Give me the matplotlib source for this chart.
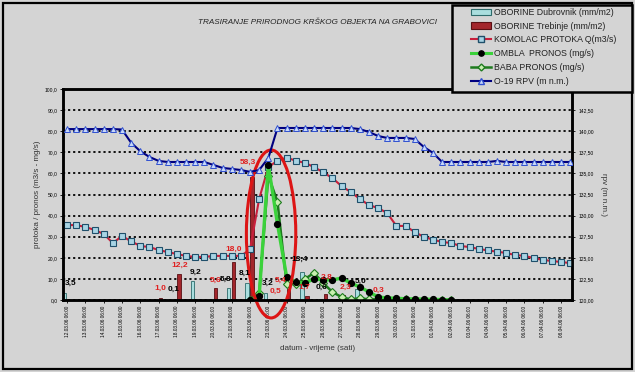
import matplotlib
matplotlib.use('Agg')
import matplotlib.pyplot as plt
import numpy as np
from matplotlib.patches import Ellipse, Rectangle, Patch
from matplotlib.lines import Line2D
from matplotlib.ticker import FuncFormatter, FixedLocator

plt.rcParams['font.family'] = ['Liberation Sans', 'DejaVu Sans']

# ---------------- data ----------------
title = 'TRASIRANJE PRIRODNOG KRŠKOG OBJEKTA NA GRABOVICI'
date_labels = ['12.03.06 06:00', '13.03.06 06:00', '14.03.06 06:00', '15.03.06 06:00',
               '16.03.06 06:00', '17.03.06 06:00', '18.03.06 06:00', '19.03.06 06:00',
               '20.03.06 06:00', '21.03.06 06:00', '22.03.06 06:00', '23.03.06 06:00',
               '24.03.06 06:00', '25.03.06 06:00', '26.03.06 06:00', '27.03.06 06:00',
               '28.03.06 06:00', '29.03.06 06:00', '30.03.06 06:00', '31.03.06 06:00',
               '01.04.06 06:00', '02.04.06 06:00', '03.04.06 06:00', '04.04.06 06:00',
               '05.04.06 06:00', '06.04.06 06:00', '07.04.06 06:00', '08.04.06 06:00']

# measurements every 12 h (index 0 = 12.03.06 06:00)
komolac = [35.5, 35.5, 34.6, 33.2, 31.3, 27.0, 30.3, 27.8, 25.6, 25.1,
           23.7, 22.7, 21.8, 20.9, 20.4, 20.4, 20.9, 20.9, 20.9, 20.9,
           24.0, 48.0, 63.0, 66.0, 67.5, 66.0, 65.0, 63.0, 60.5, 57.8,
           54.0, 51.2, 47.9, 45.0, 43.6, 41.2, 35.1, 35.1, 32.2, 29.9,
           28.6, 27.5, 27.0, 25.6, 25.1, 24.2, 23.5, 22.9, 22.3, 21.3,
           20.9, 19.9, 19.0, 18.5, 18.0, 17.5]

rpv = [140.25, 140.25, 140.25, 140.25, 140.25, 140.25, 140.20, 138.63, 137.63, 136.95,
       136.48, 136.35, 136.35, 136.35, 136.35, 136.35, 136.00, 135.65, 135.53, 135.40,
       135.18, 135.40, 136.83, 140.38, 140.38, 140.38, 140.38, 140.38, 140.38, 140.38,
       140.38, 140.38, 140.25, 139.90, 139.43, 139.20, 139.20, 139.20, 139.08, 138.13,
       137.43, 136.35, 136.35, 136.35, 136.35, 136.35, 136.35, 136.48, 136.35, 136.35,
       136.35, 136.35, 136.35, 136.35, 136.35, 136.35]

tracer_start = 20
ombla = [0.0, 2.0, 64.0, 36.0, 11.0, 8.5, 8.0, 10.0, 9.5, 9.5, 10.4, 8.0,
         6.2, 3.8, 1.4, 1.0, 0.8, 0.6, 0.5, 0.4, 0.3, 0.2, 0.0]
baba = [0.0, 3.3, 59.0, 46.5, 7.6, 7.6, 10.0, 12.8, 8.0, 3.8, 1.4, 0.3,
        0.8, 0.3, 0.5, 0.4, 0.3, 0.3, 0.2, 0.2, 0.1, 0.1, 0.1]

dub_idx = [0, 12, 14, 18, 20, 22, 26, 28, 32]
dub_val = [3.5, 0.1, 9.2, 5.8, 8.1, 3.2, 13.4, 0.6, 5.0]
treb_idx = [10, 12, 16, 18, 20, 22, 24, 26, 28, 30, 34]
treb_val = [1.0, 12.2, 5.6, 18.0, 58.3, 0.5, 5.4, 1.7, 2.8, 2.3, 0.3]

left_ticks = [0, 10, 20, 30, 40, 50, 60, 70, 80, 90, 100]
right_ticks = [120.0, 122.5, 125.0, 127.5, 130.0, 132.5, 135.0, 137.5, 140.0, 142.5]

# label placement offsets (pixels, right / up) – styling only
dub_lab_off = [(6, 9.6), (0, 10), (3, 8.6), (-3, 8), (-2, 10), (2, 10), (-2, 12), (1, 11), (4, 8.5)]
treb_lab_off = [(0, 10), (1, 9.3), (0, 8), (0, 13), (-4, 15), (5, 8), (-8, 8.6), (-3, 9.4),
                (1, 17), (2, 8), (-2, 9.4)]

# ---------------- figure ----------------
BG = '#d4d4d4'
W, H = 635, 372
fig = plt.figure(figsize=(W / 100, H / 100), dpi=100, facecolor=BG)

def fx(px):
    return px / W

def fy(py):
    return 1 - py / H

ax = fig.add_axes([fx(63), fy(300), fx(572) - fx(63), fy(89) - fy(300)])
ax.set_facecolor(BG)
ax.set_xlim(-0.45, 55.2)
ax.set_ylim(0, 100)

ax.yaxis.set_major_locator(FixedLocator(left_ticks))
ax.grid(axis='y', color='black', linestyle=(0, (1.2, 1.6)), linewidth=1.3)
ax.set_axisbelow(True)

# bars
bw = 0.36
ax.bar(np.array(dub_idx) - 0.32, dub_val, width=bw, color='#a9dede', edgecolor='#2d6b6b',
       linewidth=0.6, zorder=2)
ax.bar(np.array(treb_idx) + 0.22, treb_val, width=bw, color='#a3262c', edgecolor='#5a1014',
       linewidth=0.6, zorder=2)

PX = 0.72  # points per pixel
for i, v, (dx, dy) in zip(dub_idx, dub_val, dub_lab_off):
    ax.annotate(f'{v:.1f}'.replace('.', ','), xy=(i - 0.32, v), xytext=(dx * PX, dy * PX),
                textcoords='offset points', ha='center', va='center', fontsize=6,
                color='black', fontweight='bold', zorder=9)
for i, v, (dx, dy) in zip(treb_idx, treb_val, treb_lab_off):
    ax.annotate(f'{v:.1f}'.replace('.', ','), xy=(i + 0.22, v), xytext=(dx * PX, dy * PX),
                textcoords='offset points', ha='center', va='center', fontsize=6,
                color='#e02020', fontweight='bold', zorder=9)

# Komolac flow
x_all = np.arange(len(komolac))
ax.plot(x_all, komolac, color='#c8203c', linewidth=1.5, marker='s', markersize=4.6,
        markerfacecolor='#a8d4e4', markeredgecolor='#1f4f6a', markeredgewidth=0.8, zorder=4)

# tracers
x_tr = np.arange(tracer_start, tracer_start + len(ombla))
ax.plot(x_tr, baba, color='#1e7b1e', linewidth=1.8, marker='D', markersize=4,
        markerfacecolor='#c8f0b0', markeredgecolor='#1e7b1e', markeredgewidth=0.8, zorder=5)
ax.plot(x_tr, ombla, color='#3bd23b', linewidth=2.4, marker='o', markersize=4.2,
        markerfacecolor='black', markeredgecolor='black', zorder=5)

# ellipse highlight
ell = Ellipse((22.3, 31.3), width=5.4, height=79.6, fill=False, edgecolor='#dd1515',
              linewidth=2.2, clip_on=False, zorder=7)
ax.add_patch(ell)

for s in ax.spines.values():
    s.set_linewidth(1.8)
    s.set_color('black')
ax.yaxis.set_major_formatter(FuncFormatter(lambda v, p: f'{v:.1f}'.replace('.', ',')))
ax.tick_params(axis='y', labelsize=3.6, length=2, width=0.6, pad=2)
ax.set_xticks(np.arange(0, 2 * len(date_labels), 2))
ax.set_xticklabels(date_labels, rotation=90, fontsize=3.4)
ax.tick_params(axis='x', length=2, width=0.6, pad=2)
ax.set_ylabel('protoka / pronos (m3/s - mg/s)', fontsize=5.8, color='#333333', labelpad=3)
ax.set_xlabel('datum - vrijeme (sati)', fontsize=5.8, color='#333333', labelpad=6)

ax2 = ax.twinx()
ax2.set_ylim(120, 145)
ax2.yaxis.set_major_locator(FixedLocator(right_ticks))
ax2.yaxis.set_major_formatter(FuncFormatter(lambda v, p: f'{v:.2f}'.replace('.', ',')))
ax2.tick_params(axis='y', labelsize=3.6, length=2, width=0.6, pad=3)
for s in ax2.spines.values():
    s.set_linewidth(1.8)
ax2.plot(x_all, rpv, color='#000080', linewidth=1.5, marker='^', markersize=4.2,
         markerfacecolor='#c8d8f8', markeredgecolor='#3050d0', markeredgewidth=0.7, zorder=5)
ax2.set_ylabel('rpv (m n.m.)', fontsize=5.8, color='#333333', rotation=270, labelpad=9)

# title
fig.text(fx(317), fy(23), title, ha='center', va='center', fontsize=5.9, style='italic',
         color='#222222')

# legend box + legend
fig.add_artist(Rectangle((fx(452), fy(92)), fx(632) - fx(452), fy(5) - fy(92),
                         transform=fig.transFigure, facecolor=BG, edgecolor='black',
                         linewidth=1.8, zorder=4))
handles = [
    Patch(facecolor='#a9dede', edgecolor='#2d6b6b', linewidth=0.8),
    Patch(facecolor='#a3262c', edgecolor='#5a1014', linewidth=0.8),
    Line2D([], [], color='#c8203c', linewidth=1.5, marker='s', markersize=4.2,
           markerfacecolor='#a8d4e4', markeredgecolor='#1f4f6a'),
    Line2D([], [], color='#3bd23b', linewidth=2.2, marker='o', markersize=3.8,
           markerfacecolor='black', markeredgecolor='black'),
    Line2D([], [], color='#1e7b1e', linewidth=1.8, marker='D', markersize=3.5,
           markerfacecolor='#c8f0b0', markeredgecolor='#1e7b1e'),
    Line2D([], [], color='#000080', linewidth=1.5, marker='^', markersize=3.8,
           markerfacecolor='#c8d8f8', markeredgecolor='#3050d0'),
]
labels = ['OBORINE Dubrovnik (mm/m2)', 'OBORINE Trebinje (mm/m2)', 'KOMOLAC PROTOKA Q(m3/s)',
          'OMBLA  PRONOS (mg/s)', 'BABA PRONOS (mg/s)', 'O-19 RPV (m n.m.)']
leg = fig.legend(handles, labels, loc='upper left', bbox_to_anchor=(fx(469), fy(6)),
                 borderaxespad=0, prop={'size': 6.3},
                 handlelength=2.3, handletextpad=0.3, labelspacing=0.55, borderpad=0.2,
                 frameon=False)
leg.set_zorder(6)
for t in leg.get_texts():
    t.set_color('#222222')

# outer border
fig.add_artist(Rectangle((fx(3), fy(369)), fx(632) - fx(3), fy(3) - fy(369),
                         transform=fig.transFigure, fill=False, edgecolor='black', linewidth=1.6))

fig.savefig('out.png', dpi=100, facecolor=BG)
